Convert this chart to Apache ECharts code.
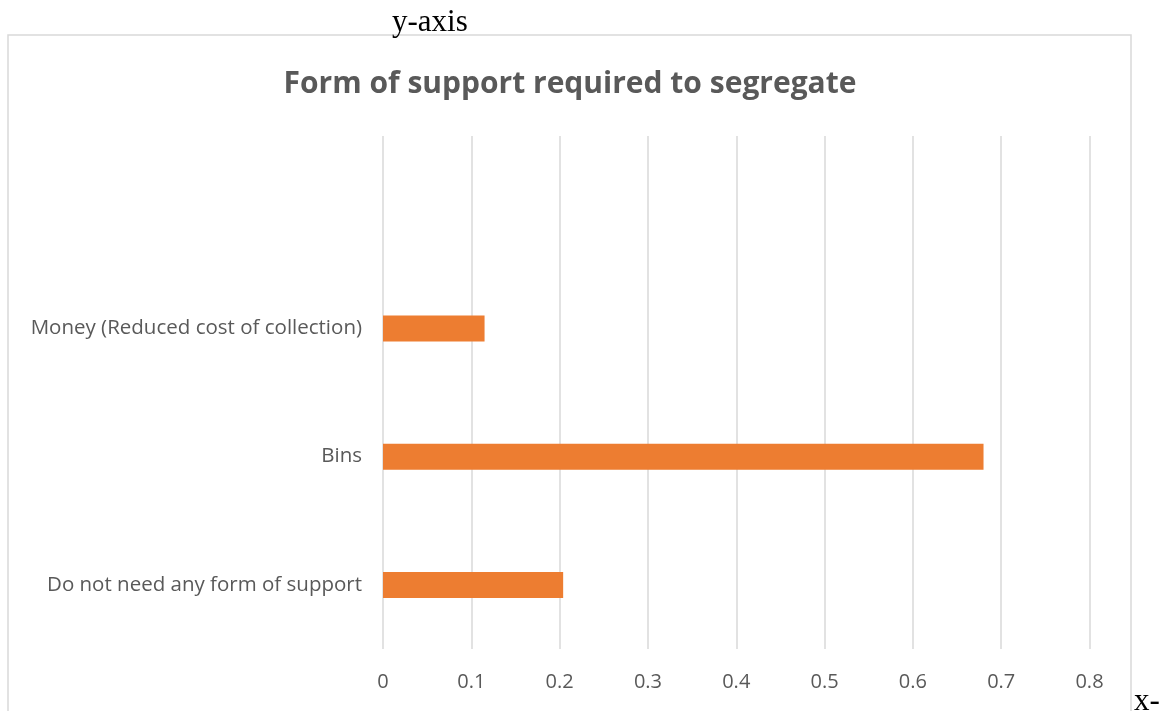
<!DOCTYPE html>
<html>
<head>
<meta charset="utf-8">
<script src="https://cdn.jsdelivr.net/npm/echarts@6/dist/echarts.min.js"></script>
<style>
html,body{margin:0;padding:0;background:#fff;}
#chart{width:1164px;height:711px;}
</style>
</head>
<body>
<div id="chart"></div>
<script>
var titleText = 'Form of support required to segregate';
var categories = ['Do not need any form of support', 'Bins', 'Money (Reduced cost of collection)', ''];
var values = [0.204, 0.68, 0.115, null];
var xTicks = [0, 0.1, 0.2, 0.3, 0.4, 0.5, 0.6, 0.7, 0.8];
var yAxisNote = 'y-axis';
var xAxisNote = 'x-';

var chart = echarts.init(document.getElementById('chart'));
chart.setOption({
  animation: false,
  backgroundColor: '#ffffff',
  graphic: [
    {type: 'rect', shape: {x: 8, y: 35, width: 1123, height: 700}, style: {fill: 'none', stroke: '#d9d9d9', lineWidth: 1.5}, z: -1},
    {type: 'text', x: 570, y: 84, style: {text: titleText, fontFamily: 'Open Sans', fontWeight: 'bold', fontSize: 30, fill: '#595959', align: 'center', verticalAlign: 'middle'}},
    {type: 'text', x: 392, y: 7, style: {text: yAxisNote, fontFamily: 'Liberation Serif', fontSize: 31, fill: '#000', align: 'left', verticalAlign: 'top'}},
    {type: 'text', x: 1134, y: 686, style: {text: xAxisNote, fontFamily: 'Liberation Serif', fontSize: 31, fill: '#000', align: 'left', verticalAlign: 'top'}}
  ],
  grid: {left: 383, right: 74.5, top: 136, bottom: 62, containLabel: false},
  xAxis: {
    type: 'value',
    min: xTicks[0],
    max: xTicks[xTicks.length - 1],
    interval: 0.1,
    axisLine: {show: false},
    axisTick: {show: false},
    splitLine: {show: true, lineStyle: {color: '#d9d9d9', width: 1.5}},
    axisLabel: {margin: 23, fontFamily: 'Open Sans', fontSize: 20, color: '#595959',
      formatter: function (v) { return String(Math.round(v * 10) / 10); }}
  },
  yAxis: {
    type: 'category',
    data: categories,
    axisLine: {show: false},
    axisTick: {show: false},
    splitLine: {show: false},
    axisLabel: {margin: 21, fontFamily: 'Open Sans', fontSize: 20.5, color: '#595959'}
  },
  series: [{
    type: 'bar',
    data: values,
    barWidth: 26,
    itemStyle: {color: '#ED7D31'}
  }]
});
</script>
</body>
</html>
